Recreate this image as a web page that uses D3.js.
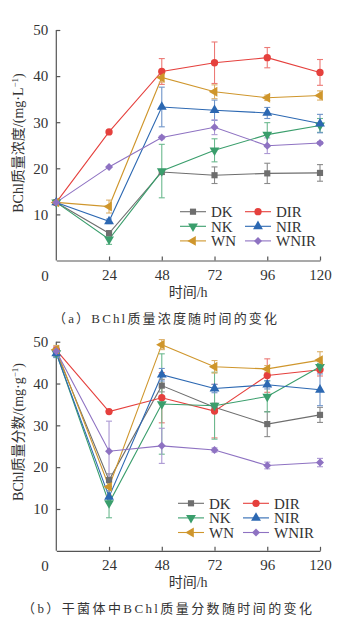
<!DOCTYPE html>
<html>
<head>
<meta charset="utf-8">
<script src="https://cdn.jsdelivr.net/npm/d3@7"></script>
<style>
  body { margin: 0; background: #fff; }
  svg { display: block; }
  text { font-family: "Liberation Serif", "Noto Sans CJK SC", serif; fill: #333; }
</style>
</head>
<body>
<script>
// ---------------------------------------------------------------- data
var hours = [0, 24, 48, 72, 96, 120];
var seriesNames = ["DK", "DIR", "NK", "NIR", "WN", "WNIR"];
var xTickValues = [24, 48, 72, 96, 120];
var yTickValues = [10, 20, 30, 40, 50];

// (a) BChl concentration, mg/L
var concDK   = [12.6, 5.9, 19.2, 18.5, 18.9, 19.0];
var concDIR  = [12.6, 27.9, 41.0, 42.9, 44.0, 40.8];
var concNK   = [12.6, 4.6, 19.4, 23.9, 27.3, 29.3];
var concNIR  = [12.6, 8.5, 33.3, 32.6, 32.0, 29.7];
var concWN   = [12.6, 11.7, 39.7, 36.6, 35.3, 35.8];
var concWNIR = [12.6, 20.3, 26.7, 28.9, 24.9, 25.5];

var concErrDK   = [0.3, 0.6, 0.5, 1.8, 2.2, 1.8];
var concErrDIR  = [0.3, 0, 2.8, 4.5, 2.2, 2.8];
var concErrNK   = [0.3, 1.1, 5.8, 2.5, 2.6, 1.5];
var concErrNIR  = [0.3, 0.5, 4.3, 2.2, 1.2, 2.0];
var concErrWN   = [0.3, 1.4, 1.0, 1.5, 0.6, 1.0];
var concErrWNIR = [0.3, 0, 0.3, 1.6, 1.7, 0.3];

// (b) BChl content in dry cells, mg/g
var contDK   = [47.5, 16.9, 39.5, 34.3, 30.3, 32.5];
var contDIR  = [48.0, 33.3, 36.6, 33.4, 41.9, 43.3];
var contNK   = [47.3, 11.4, 35.1, 34.7, 36.9, 44.0];
var contNIR  = [47.2, 12.9, 42.1, 38.8, 39.7, 38.5];
var contWN   = [48.1, 15.3, 49.3, 44.0, 43.5, 45.6];
var contWNIR = [47.7, 23.8, 25.1, 24.1, 20.4, 21.1];

var contErrDK   = [1.0, 1.5, 1.5, 1.0, 3.0, 1.8];
var contErrDIR  = [0.8, 0, 6.0, 6.4, 4.0, 1.5];
var contErrNK   = [1.0, 3.5, 12.0, 8.0, 3.7, 0.8];
var contErrNIR  = [1.0, 1.5, 1.5, 1.0, 1.0, 3.8];
var contErrWN   = [1.0, 2.0, 1.2, 1.5, 0.8, 2.0];
var contErrWNIR = [1.0, 7.2, 4.2, 0.5, 0.8, 1.0];

// ---------------------------------------------------------------- style
var colors = {DK: "#6e6e6e", DIR: "#e5403d", NK: "#3a9e6c", NIR: "#2c68b2", WN: "#cf962c", WNIR: "#8e72c2"};
var errColors = {DK: "#8a8a8a", DIR: "#ec7a76", NK: "#6cb98f", NIR: "#6f94c9", WN: "#dcb069", WNIR: "#ab98d3"};
var shapes = {DK: "square", DIR: "circle", NK: "down", NIR: "up", WN: "left", WNIR: "diamond"};

var W = 343, H = 631;
var svg = d3.select("body").append("svg").attr("width", W).attr("height", H);

function markerPath(shape){
	if(shape == "circle") return d3.symbol(d3.symbolCircle, 42)();
	if(shape == "square") return d3.symbol(d3.symbolSquare, 38)();
	if(shape == "diamond") return d3.symbol(d3.symbolSquare, 32)();
	return d3.symbol(d3.symbolTriangle, 42)();
}
function markerRotate(shape){
	if(shape == "down") return 180;
	if(shape == "left") return -90;
	if(shape == "diamond") return 45;
	return 0;
}

function drawPanel(p){
	var x = d3.scaleLinear().domain([0, 120]).range([56.3, 320]);
	var y = d3.scaleLinear().domain([0, 50]).range([p.bottom, p.top]);
	var g = svg.append("g");

	// axes
	var xAxis = d3.axisBottom(x).tickValues(xTickValues).tickSizeInner(-4).tickSizeOuter(0).tickPadding(9);
	var yAxis = d3.axisLeft(y).tickValues(yTickValues).tickSizeInner(-4).tickSizeOuter(0).tickPadding(8);

	var gx = g.append("g").attr("transform", "translate(0," + p.bottom + ")").call(xAxis);
	var gy = g.append("g").attr("transform", "translate(" + x(0) + ",0)").call(yAxis);
	[gx, gy].forEach(function(a){
		a.select(".domain").attr("stroke", "#555").attr("stroke-width", 1.2);
		a.selectAll(".tick line").attr("stroke", "#555").attr("stroke-width", 1.2);
		a.selectAll(".tick text").style("font-size", "15px").attr("fill", "#333");
	});
	gy.select(".domain").attr("d", "M0," + y(0) + "V" + y(50));

	g.append("text").attr("x", 45).attr("y", p.bottom + 20).attr("text-anchor", "middle")
		.style("font-size", "15px").text("0");

	// x title
	g.append("text").attr("x", x(60)).attr("y", p.bottom + 36).attr("text-anchor", "middle")
		.style("font-size", "14px").text("时间/h");

	// y title
	var yt = g.append("text").attr("transform", "translate(23," + p.titleY + ") rotate(-90)")
		.attr("text-anchor", "middle").style("font-size", "14px");
	yt.append("tspan").text(p.yTitle);
	yt.append("tspan").attr("dy", -5).style("font-size", "9px").text("−1");
	yt.append("tspan").attr("dy", 5).text(")");

	// caption
	g.append("text").attr("x", p.capX).attr("y", p.bottom + 62)
		.attr("textLength", p.capW).attr("lengthAdjust", "spacing")
		.style("font-size", "13px").text(p.caption);

	var line = d3.line().x(function(d){ return x(d[0]); }).y(function(d){ return y(d[1]); });

	// lines
	seriesNames.forEach(function(name){
		var pts = hours.map(function(h, i){ return [h, p.values[name][i]]; });
		g.append("path").attr("d", line(pts)).attr("fill", "none")
			.attr("stroke", colors[name]).attr("stroke-width", 1.1);
	});

	// error bars
	seriesNames.forEach(function(name){
		hours.forEach(function(h, i){
			var e = p.errors[name][i];
			if(e <= 0) return;
			var v = p.values[name][i];
			var cx = x(h), y1 = y(v + e), y2 = y(v - e);
			var eg = g.append("g").attr("stroke", errColors[name]).attr("stroke-width", 1.1);
			eg.append("line").attr("x1", cx).attr("x2", cx).attr("y1", y1).attr("y2", y2);
			eg.append("line").attr("x1", cx - 3).attr("x2", cx + 3).attr("y1", y1).attr("y2", y1);
			eg.append("line").attr("x1", cx - 3).attr("x2", cx + 3).attr("y1", y2).attr("y2", y2);
		});
	});

	// markers
	seriesNames.forEach(function(name){
		hours.forEach(function(h, i){
			g.append("path").attr("d", markerPath(shapes[name]))
				.attr("transform", "translate(" + x(h) + "," + y(p.values[name][i]) + ") rotate(" + markerRotate(shapes[name]) + ")")
				.attr("fill", colors[name]);
		});
	});

	// legend
	seriesNames.forEach(function(name, i){
		var row = Math.floor(i / 2), col = i % 2;
		var lx = p.legendCols[col], ly = p.legendTop + row * 14.6;
		g.append("line").attr("x1", lx).attr("x2", lx + 26).attr("y1", ly).attr("y2", ly)
			.attr("stroke", colors[name]).attr("stroke-width", 1.1);
		g.append("path").attr("d", markerPath(shapes[name]))
			.attr("transform", "translate(" + (lx + 13) + "," + ly + ") rotate(" + markerRotate(shapes[name]) + ")")
			.attr("fill", colors[name]);
		g.append("text").attr("x", lx + 31).attr("y", ly + 5.5)
			.style("font-size", "15px").text(name);
	});
}

drawPanel({
	top: 30, bottom: 260.5, titleY: 143,
	yTitle: "BChl质量浓度/(mg·L",
	caption: "（a）BChl质量浓度随时间的变化", capX: 53, capW: 224,
	legendTop: 211.7, legendCols: [180, 245],
	values: {DK: concDK, DIR: concDIR, NK: concNK, NIR: concNIR, WN: concWN, WNIR: concWNIR},
	errors: {DK: concErrDK, DIR: concErrDIR, NK: concErrNK, NIR: concErrNIR, WN: concErrWN, WNIR: concErrWNIR}
});

drawPanel({
	top: 341.7, bottom: 550.8, titleY: 432,
	yTitle: "BChl质量分数/(mg·g",
	caption: "（b）干菌体中BChl质量分数随时间的变化", capX: 22, capW: 290,
	legendTop: 503.3, legendCols: [178, 243],
	values: {DK: contDK, DIR: contDIR, NK: contNK, NIR: contNIR, WN: contWN, WNIR: contWNIR},
	errors: {DK: contErrDK, DIR: contErrDIR, NK: contErrNK, NIR: contErrNIR, WN: contErrWN, WNIR: contErrWNIR}
});
</script>
</body>
</html>
